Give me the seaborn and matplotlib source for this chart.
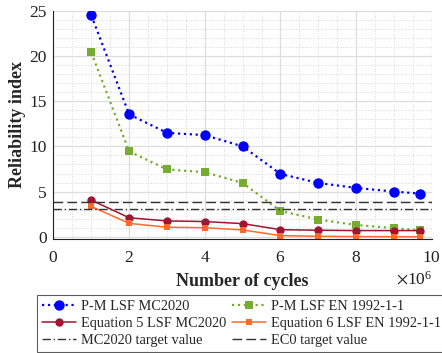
import numpy as np
import pandas as pd
import matplotlib
matplotlib.use("Agg")
import matplotlib.pyplot as plt
import seaborn as sns
from matplotlib.ticker import MultipleLocator, ScalarFormatter

cycles = [1e6, 2e6, 3e6, 4e6, 5e6, 6e6, 7e6, 8e6, 9e6, 9.7e6]
pm_mc2020 = [24.5, 13.55, 11.5, 11.25, 10.0, 6.95, 5.95, 5.4, 5.0, 4.77]
pm_en1992 = [20.4, 9.45, 7.45, 7.15, 5.95, 2.85, 1.9, 1.3, 0.95, 0.7]
eq5_mc2020 = [4.05, 2.1, 1.75, 1.68, 1.45, 0.78, 0.72, 0.68, 0.68, 0.68]
eq6_en1992 = [3.35, 1.48, 1.05, 1.0, 0.75, 0.12, 0.05, 0.02, 0.0, 0.0]
mc2020_target = 3.1
ec0_target = 3.8

labels = ["P-M LSF MC2020", "P-M LSF EN 1992-1-1",
          "Equation 5 LSF MC2020", "Equation 6 LSF EN 1992-1-1",
          "MC2020 target value", "EC0 target value"]

sns.set_style("white")
plt.rcParams["font.family"] = ["Liberation Serif", "DejaVu Serif"]
plt.rcParams["mathtext.fontset"] = "stix"

fig = plt.figure(figsize=(4.42, 3.53), dpi=100)
ax = fig.add_axes([0.121, 0.323, 0.856, 0.646])

series = [
    (pm_mc2020, labels[0], dict(color="#0000FF", linestyle=":", marker="o", markersize=7.5, linewidth=1.6)),
    (pm_en1992, labels[1], dict(color="#77AC30", linestyle=":", marker="s", markersize=5.5, linewidth=1.6)),
    (eq5_mc2020, labels[2], dict(color="#A2142F", linestyle="-", marker="o", markersize=6, linewidth=1.1)),
    (eq6_en1992, labels[3], dict(color="#FF6A2A", linestyle="-", marker="s", markersize=5, linewidth=1.1)),
]
for vals, lab, kw in series:
    df = pd.DataFrame({"x": cycles, "y": vals})
    sns.lineplot(data=df, x="x", y="y", ax=ax, label=lab, markeredgewidth=0, **kw)

ax.axhline(mc2020_target, color="#333333", linestyle=(0, (6, 2, 1, 2)), linewidth=1.0, label=labels[4])
ax.axhline(ec0_target, color="#333333", linestyle=(0, (7, 3)), linewidth=1.0, label=labels[5])

ax.set_xlim(0, 10e6)
ax.set_ylim(-0.25, 25)
ax.xaxis.set_major_locator(MultipleLocator(2e6))
ax.xaxis.set_minor_locator(MultipleLocator(0.5e6))
ax.yaxis.set_major_locator(MultipleLocator(5))
ax.yaxis.set_minor_locator(MultipleLocator(1))
fmt = ScalarFormatter(useMathText=True, useOffset=False)
fmt.set_powerlimits((6, 6))
ax.xaxis.set_major_formatter(fmt)

ax.grid(which="major", color="#DDDDDD", linewidth=0.9, linestyle="-")
ax.grid(which="minor", color="#CCCCCC", linewidth=0.6, linestyle=(0, (1, 2)))
ax.set_axisbelow(True)

for s in ["top", "right"]:
    ax.spines[s].set_visible(False)
for s in ["left", "bottom"]:
    ax.spines[s].set_color("#222222")
    ax.spines[s].set_linewidth(0.8)
ax.tick_params(axis="both", which="major", direction="in", length=4, labelsize=12.5, colors="#222222")
ax.tick_params(axis="x", which="major", pad=8)
ax.tick_params(axis="y", which="major", pad=5)
ax.tick_params(axis="both", which="minor", length=0)
ax.xaxis.get_offset_text().set_fontsize(12.5)

ax.set_xlabel("Number of cycles", fontsize=13, fontweight="bold", labelpad=5)
ax.set_ylabel("Reliability index", fontsize=13, fontweight="bold", labelpad=2)

handles, labs = ax.get_legend_handles_labels()
ax.get_legend().remove()
order = [0, 2, 4, 1, 3, 5]
leg = fig.legend([handles[i] for i in order], [labs[i] for i in order],
                 loc="upper left", bbox_to_anchor=(37 / 442, 1 - 295 / 353),
                 ncol=2, fontsize=10.4, frameon=True, fancybox=False, edgecolor="#333333",
                 handlelength=2.4, handletextpad=0.3, columnspacing=0.4, labelspacing=0.27,
                 borderpad=0.33, borderaxespad=0)
leg.get_frame().set_linewidth(0.8)

fig.savefig("out.png", dpi=100)
